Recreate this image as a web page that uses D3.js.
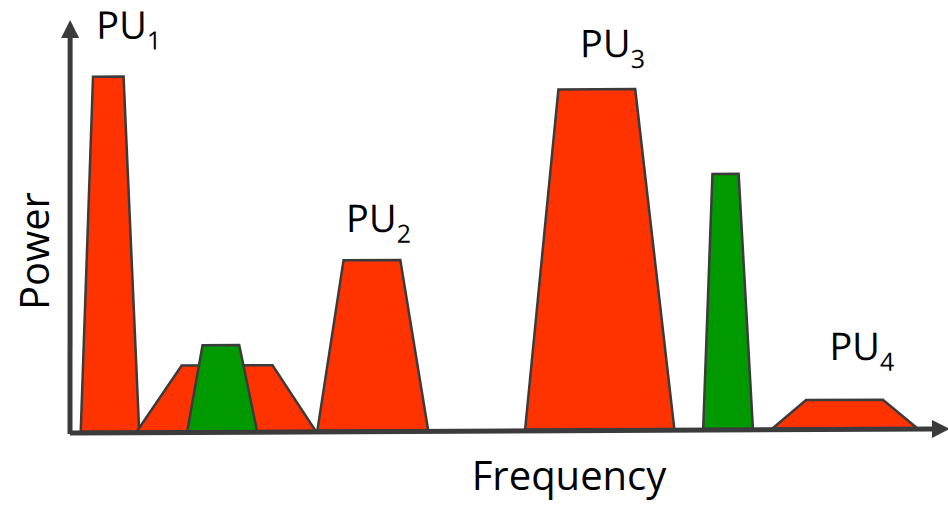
<!DOCTYPE html>
<html>
<head>
<meta charset="utf-8">
<script src="https://cdn.jsdelivr.net/npm/d3@7"></script>
<style>
  html, body { margin: 0; padding: 0; background: #fff; }
  svg { display: block; font-family: "Open Sans", sans-serif; }
</style>
</head>
<body>
<svg id="chart" width="948" height="505"></svg>
<script>
// spectrum bands: [bottom-left, top-left, top-right, bottom-right] in frequency units, plus peak power
const bandNames = ['PU1', 'SU1', 'SU1g', 'PU2', 'PU3', 'SU2g', 'PU4'];
const bandEdges = [
    [1.0, 2.6, 6.1, 7.7],
    [7.4, 12.6, 23.0, 27.9],
    [13.2, 15.0, 19.2, 21.2],
    [28.1, 31.2, 37.7, 40.8],
    [51.9, 55.9, 64.7, 69.0],
    [72.3, 73.5, 76.5, 78.0],
    [80.2, 84.1, 92.9, 96.8]
];
const bandPower = [86.2, 16.0, 20.9, 41.4, 82.6, 61.9, 6.9];
const bandKind = ['primary', 'primary', 'secondary', 'primary', 'primary', 'secondary', 'primary'];

// PU labels (anchor in data units)
const labelText = ['PU', 'PU', 'PU', 'PU'];
const labelSub = ['1', '2', '3', '4'];
const labelFreq = [3.0, 31.5, 58.4, 86.8];
const labelPower = [95.4, 48.2, 90.4, 16.6];

const svg = d3.select('#chart');
const x = d3.scaleLinear().domain([0, 100]).range([72, 945]);
const y = d3.scaleLinear().domain([0, 100]).range([432, 20]);
const colors = { primary: '#ff3300', secondary: '#009900' };

// slight tilt of the whole plot like the original drawing
const plot = svg.append('g').attr('transform', 'rotate(-0.27, 72, 433)');

const defs = svg.append('defs');
defs.append('marker')
    .attr('id', 'arrow')
    .attr('markerUnits', 'userSpaceOnUse')
    .attr('markerWidth', 18).attr('markerHeight', 18)
    .attr('refX', 0).attr('refY', 9)
    .attr('orient', 'auto')
    .append('path')
    .attr('d', 'M0,0 L18,9 L0,18 Z')
    .attr('fill', '#3b3b3b');

const bands = bandNames.map((n, i) => ({ name: n, e: bandEdges[i], p: bandPower[i], kind: bandKind[i] }));

plot.selectAll('.band')
    .data(bands)
    .enter().append('path')
    .attr('class', 'band')
    .attr('d', d => d3.line()([
        [x(d.e[0]), y(0)],
        [x(d.e[1]), y(d.p)],
        [x(d.e[2]), y(d.p)],
        [x(d.e[3]), y(0)]
    ]) + 'Z')
    .attr('fill', d => colors[d.kind])
    .attr('stroke', '#3b3b3b')
    .attr('stroke-width', 2.5)
    .attr('stroke-linejoin', 'miter');

// axes: plain lines with arrow heads
plot.append('line')
    .attr('x1', x(0) - 2).attr('y1', y(0) + 2)
    .attr('x2', x(0)).attr('y2', y(100) + 18)
    .attr('stroke', '#3b3b3b').attr('stroke-width', 5)
    .attr('marker-end', 'url(#arrow)');

plot.append('line')
    .attr('x1', x(0) - 2).attr('y1', y(0) + 1)
    .attr('x2', x(100) - 13).attr('y2', y(0) + 1)
    .attr('stroke', '#3b3b3b').attr('stroke-width', 5)
    .attr('marker-end', 'url(#arrow)');

// PU labels
const labels = plot.selectAll('.pu')
    .data(labelText.map((t, i) => ({ t, s: labelSub[i], f: labelFreq[i], p: labelPower[i] })))
    .enter().append('text')
    .attr('class', 'pu')
    .attr('x', d => x(d.f))
    .attr('y', d => y(d.p))
    .attr('font-size', 38)
    .attr('fill', '#000');
labels.append('tspan').text(d => d.t);
labels.append('tspan').attr('font-size', 25).attr('dy', 11).text(d => d.s);

// axis titles
svg.append('text')
    .attr('x', 569).attr('y', 490)
    .attr('text-anchor', 'middle')
    .attr('font-size', 40)
    .text('Frequency');

svg.append('text')
    .attr('transform', 'translate(49,251) rotate(-90)')
    .attr('text-anchor', 'middle')
    .attr('font-size', 40)
    .text('Power');
</script>
</body>
</html>
